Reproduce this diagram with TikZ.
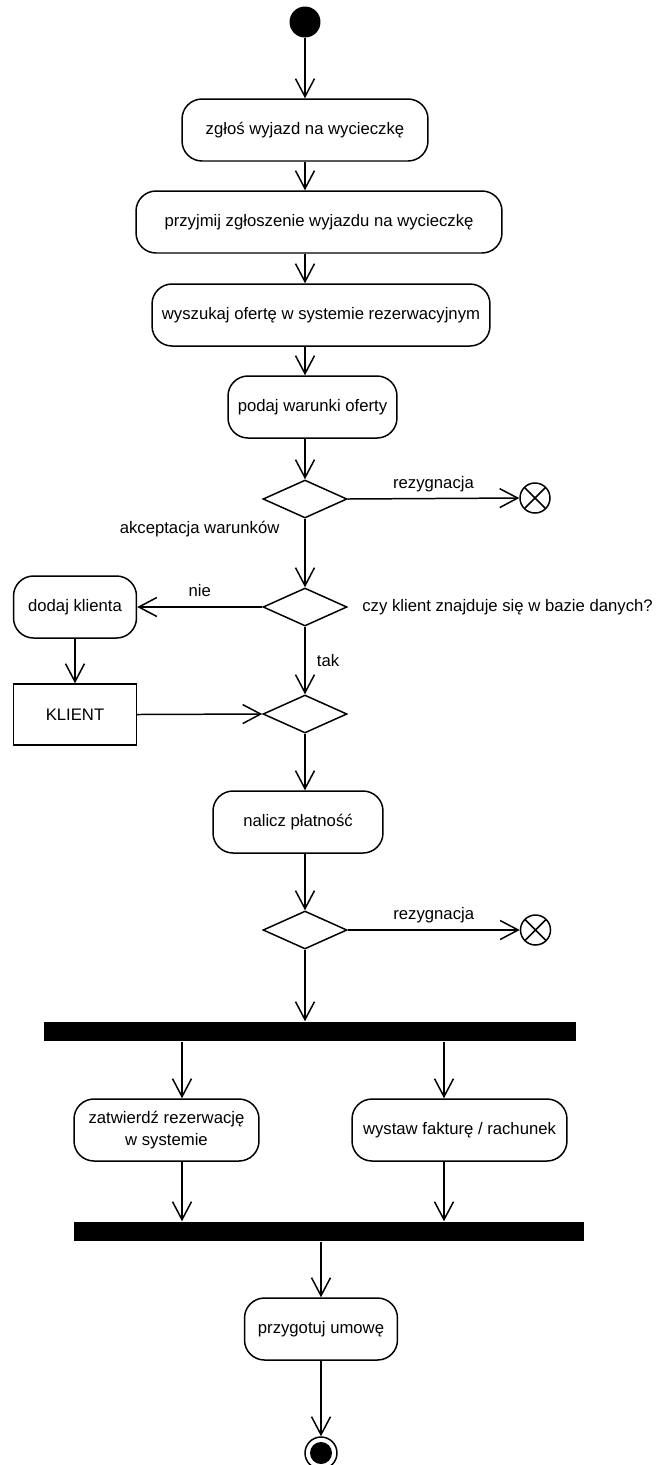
\documentclass[tikz,border=0pt]{standalone}
\usepackage{fontspec}
\setmainfont{Liberation Sans}
\usepackage{tikz}
\usetikzlibrary{arrows.meta, shapes.geometric, positioning, calc}
\newcommand{\diagfont}{\fontsize{9.5pt}{12.5pt}\selectfont}

\begin{document}
\begin{tikzpicture}[
    x=0.02cm, y=-0.02cm,
    line width=0.85pt,
    act/.style={rectangle, rounded corners=0.4cm, draw, minimum height=1.24cm,
                align=center, font=\diagfont},
    objbox/.style={rectangle, draw, minimum width=2.46cm, minimum height=1.22cm,
                   font=\diagfont},
    decision/.style={diamond, draw, aspect=2.2, minimum width=1.68cm,
                     minimum height=0.76cm, inner sep=0pt},
    bar/.style={rectangle, fill=black, minimum height=0.38cm, inner sep=0pt},
    startnode/.style={circle, fill=black, minimum size=0.62cm, inner sep=0pt},
    flowend/.style={circle, draw, minimum size=0.6cm, inner sep=0pt,
                    path picture={\draw (path picture bounding box.north west)
                      -- (path picture bounding box.south east)
                      (path picture bounding box.north east)
                      -- (path picture bounding box.south west);}},
    endnode/.style={circle, draw, minimum size=0.64cm, inner sep=0pt,
                    path picture={\fill (path picture bounding box.center) circle (0.22cm);}},
    lbl/.style={font=\diagfont},
    arr/.style={-{Straight Barb[length=3.6mm, width=3.8mm]}}
  ]
  \useasboundingbox (0,0) rectangle (656,1465);

  % Main column
  \node[startnode] (start) at (305,22) {};
  \node[act, minimum width=4.92cm] (zglos) at (305,130) {zgłoś wyjazd na wycieczkę};
  \node[act, minimum width=7.32cm] (przyjmij) at (319,222) {przyjmij zgłoszenie wyjazdu na wycieczkę};
  \node[act, minimum width=6.76cm] (wyszukaj) at (321,315) {wyszukaj ofertę w systemie rezerwacyjnym};
  \node[act, minimum width=3.38cm] (podaj) at (312.5,407) {podaj warunki oferty};
  \node[decision] (dec1) at (305,499) {};
  \node[flowend] (stop1) at (535,498) {};

  % Client check
  \node[decision] (dec2) at (305,607) {};
  \node[lbl, right=0.16cm of dec2] (pyt) {czy klient znajduje się w bazie danych?};
  \node[act, minimum width=2.46cm] (dodaj) at (75,607) {dodaj klienta};
  \node[objbox] (klient) at (75,714.5) {KLIENT};
  \node[decision] (dec3) at (305,714) {};

  % Payment
  \node[act, minimum width=3.4cm] (nalicz) at (298,822) {nalicz płatność};
  \node[decision] (dec4) at (305,930) {};
  \node[flowend] (stop2) at (535.5,930) {};

  % Fork / join
  \node[bar, minimum width=10.64cm] (fork) at (310,1031.5) {};
  \node[act, minimum width=3.7cm] (zatw) at (166.5,1130) {zatwierdź rezerwację\\w systemie};
  \node[act, minimum width=4.3cm] (wystaw) at (459.5,1130) {wystaw fakturę / rachunek};
  \node[bar, minimum width=10.2cm] (join) at (329,1231.5) {};
  \node[act, minimum width=3.06cm] (umowa) at (321,1329) {przygotuj umowę};
  \node[endnode] (fin) at (321,1453) {};

  % Arrows
  \draw[arr] (start) -- (zglos);
  \draw[arr] (zglos.south) -- (zglos.south |- przyjmij.north);
  \draw[arr] (przyjmij.south -| start) -- (wyszukaj.north -| start);
  \draw[arr] (wyszukaj.south -| start) -- (podaj.north -| start);
  \draw[arr] (podaj.south -| start) -- (dec1.north);
  \draw[arr] (dec1.east) -- (stop1.west) node[midway, above, lbl] {rezygnacja};
  \draw[arr] (dec1.south) -- (dec2.north)
        node[pos=0.15, left=0.38cm, lbl] {akceptacja warunków};
  \draw[arr] (dec2.west) -- (dodaj.east) node[midway, above=2pt, lbl] {nie};
  \draw[arr] (dec2.south) -- (dec3.north) node[midway, right=3pt, lbl] {tak};
  \draw[arr] (dodaj) -- (klient);
  \draw[arr] (klient.east) -- (dec3.west);
  \draw[arr] (dec3.south) -- (dec3.south |- nalicz.north);
  \draw[arr] (nalicz.south -| dec4) -- (dec4.north);
  \draw[arr] (dec4.east) -- (stop2.west) node[midway, above, lbl] {rezygnacja};
  \draw[arr] (dec4.south) -- (dec4.south |- fork.north);
  \draw[arr] ([xshift=0.31cm]zatw.north |- fork.south) -- ([xshift=0.31cm]zatw.north);
  \draw[arr] ([xshift=-0.31cm]wystaw.north |- fork.south) -- ([xshift=-0.31cm]wystaw.north);
  \draw[arr] ([xshift=0.31cm]zatw.south) -- ([xshift=0.31cm]zatw.south |- join.north);
  \draw[arr] ([xshift=-0.31cm]wystaw.south) -- ([xshift=-0.31cm]wystaw.south |- join.north);
  \draw[arr] (umowa.north |- join.south) -- (umowa.north);
  \draw[arr] (umowa.south) -- (fin.north);
\end{tikzpicture}
\end{document}
